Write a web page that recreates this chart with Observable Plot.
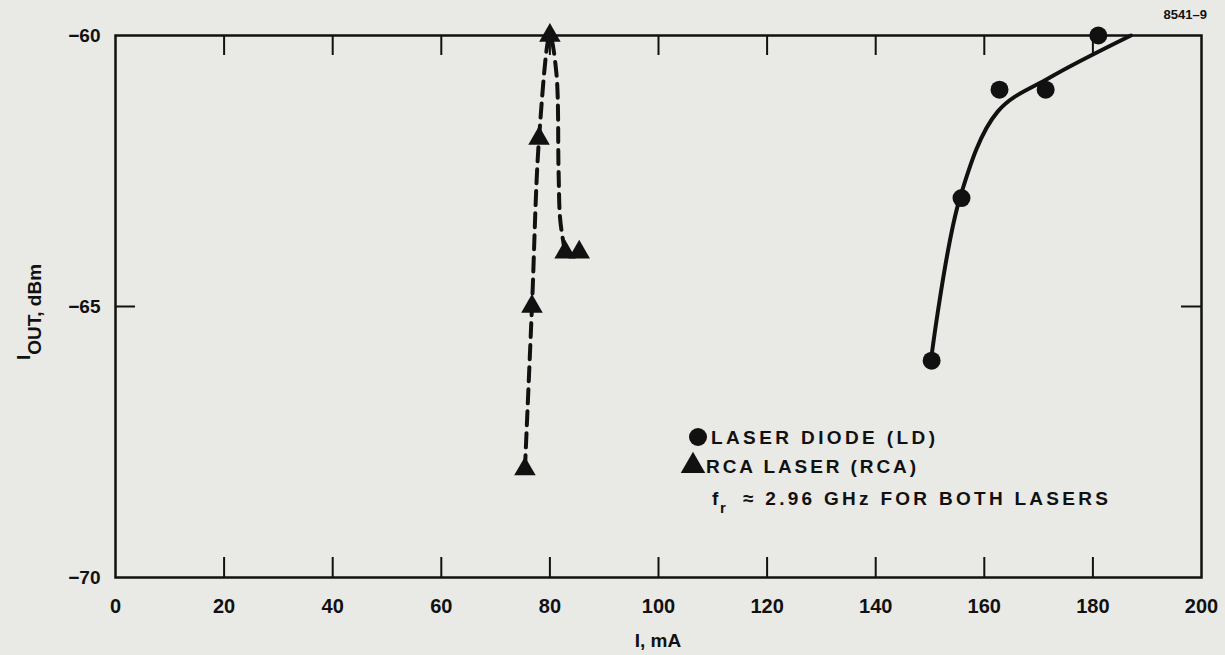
<!DOCTYPE html>
<html><head><meta charset="utf-8">
<script src="https://cdn.jsdelivr.net/npm/d3@7"></script>
<script src="https://cdn.jsdelivr.net/npm/@observablehq/plot@0.6"></script>
<style>
html,body{margin:0;padding:0;background:#e9e9e6;}
#chart svg{display:block;background:#e9e9e6;}
</style></head><body><div id="chart"></div>
<script>
// ---- data ----
const ldCurrent = [150.3, 155.8, 162.8, 171.3, 181.0];
const ldPower   = [-66.0, -63.0, -61.0, -61.0, -60.0];
const rcaCurrent = [75.4, 76.7, 78.0, 80.0, 82.8, 85.4];
const rcaPower   = [-68.0, -65.0, -61.9, -60.0, -64.0, -64.0];
// hand-drawn fit curves
const ldFitCurrent = [150.3, 155.5, 162.5, 172.0, 187.0];
const ldFitPower   = [-65.9, -63.0, -61.4, -60.78, -60.0];
const rcaFitCurrent = [75.4, 76.7, 78.0, 80.0, 81.2, 81.6, 81.9, 82.8];
const rcaFitPower   = [-68.0, -65.0, -61.9, -60.0, -60.7, -62.5, -63.4, -64.0];
const xTicks = [0, 20, 40, 60, 80, 100, 120, 140, 160, 180, 200];
const xInnerTicks = [20, 40, 60, 80, 100, 120, 140, 160, 180];
const yTicks = [-60, -65, -70];
const yInnerTicks = [-65];

const ld = ldCurrent.map((x, i) => ({x, y: ldPower[i]}));
const rca = rcaCurrent.map((x, i) => ({x, y: rcaPower[i]}));
const ldFit = ldFitCurrent.map((x, i) => ({x, y: ldFitPower[i]}));
const rcaFit = rcaFitCurrent.map((x, i) => ({x, y: rcaFitPower[i]}));

const W = 1225, H = 655, mL = 115, mR = 24, mT = 35, mB = 78;
const innerH = H - mT - mB, innerW = W - mL - mR;
const FONT = "'Liberation Sans', Arial, sans-serif";

const plot = Plot.plot({
  width: W, height: H,
  marginLeft: mL, marginRight: mR, marginTop: mT, marginBottom: mB,
  style: {background: "#e9e9e6", color: "#111", fontFamily: FONT},
  x: {domain: [0, 200]},
  y: {domain: [-70, -60]},
  marks: [
    Plot.frame({stroke: "#111", strokeWidth: 2.5}),
    Plot.tickX(xInnerTicks, {x: d => d, insetTop: innerH - 20, stroke: "#111", strokeWidth: 2}),
    Plot.tickX(xInnerTicks, {x: d => d, insetBottom: innerH - 20, stroke: "#111", strokeWidth: 2}),
    Plot.tickY(yInnerTicks, {y: d => d, insetRight: innerW - 20, stroke: "#111", strokeWidth: 2}),
    Plot.tickY(yInnerTicks, {y: d => d, insetLeft: innerW - 20, stroke: "#111", strokeWidth: 2}),
    Plot.axisX({ticks: xTicks, tickSize: 0, tickPadding: 21, label: null, fontSize: 20, fontWeight: "bold",
      tickFormat: d => String(d)}),
    Plot.axisY({ticks: yTicks, tickSize: 0, tickPadding: 15, label: null, fontSize: 19, fontWeight: "bold",
      tickFormat: d => "\u2212" + Math.abs(d)}),
    Plot.line(rcaFit, {x: "x", y: "y", curve: "catmull-rom", stroke: "#111", strokeWidth: 4,
      strokeDasharray: "14,8", strokeLinecap: "round"}),
    Plot.line(ldFit, {x: "x", y: "y", curve: "catmull-rom", stroke: "#111", strokeWidth: 4}),
    Plot.dot(rca, {x: "x", y: "y", symbol: "triangle", r: 8, fill: "#111", stroke: "none"}),
    Plot.dot(ld, {x: "x", y: "y", symbol: "circle", r: 9, fill: "#111", stroke: "none"})
  ]
});
document.getElementById("chart").appendChild(plot);

const svg = d3.select(plot);
// y axis label with subscript
const yl = svg.append("text")
  .attr("transform", "translate(41,312) rotate(-90)")
  .attr("text-anchor", "middle")
  .attr("font-family", FONT).attr("font-size", 19).attr("font-weight", "bold").attr("fill", "#111");
yl.append("tspan").attr("dy", -11).text("I");
yl.append("tspan").attr("dy", 11).text("OUT");
yl.append("tspan").text(", dBm");

// x axis label
svg.append("text").attr("x", 658).attr("y", 647).attr("text-anchor", "middle")
  .attr("font-family", FONT).attr("font-size", 19).attr("font-weight", "bold").attr("fill", "#111").text("I, mA");

// figure id
svg.append("text").attr("x", 1207).attr("y", 19).attr("text-anchor", "end")
  .attr("font-family", FONT).attr("font-size", 13).attr("font-weight", "bold").attr("fill", "#111").text("8541\u20139");

// legend
const lg = svg.append("g").attr("font-family", FONT).attr("font-size", 19).attr("font-weight", "bold")
  .attr("fill", "#111").attr("text-anchor", "start");
lg.append("circle").attr("cx", 698).attr("cy", 437).attr("r", 9).attr("fill", "#111");
lg.append("text").attr("x", 711).attr("y", 444).attr("textLength", 224).attr("lengthAdjust", "spacing").text("LASER DIODE (LD)");
lg.append("path").attr("d", d3.symbol(d3.symbolTriangle, 260)()).attr("transform", "translate(693,466)").attr("fill", "#111");
lg.append("text").attr("x", 706).attr("y", 473).attr("textLength", 210).attr("lengthAdjust", "spacing").text("RCA LASER (RCA)");
lg.append("text").attr("x", 712).attr("y", 505).text("f");
lg.append("text").attr("x", 720).attr("y", 513).attr("font-size", 15).text("r");
lg.append("text").attr("x", 743).attr("y", 505).attr("textLength", 365).attr("lengthAdjust", "spacing").text("\u2248 2.96 GHz FOR BOTH LASERS");
</script></body></html>
